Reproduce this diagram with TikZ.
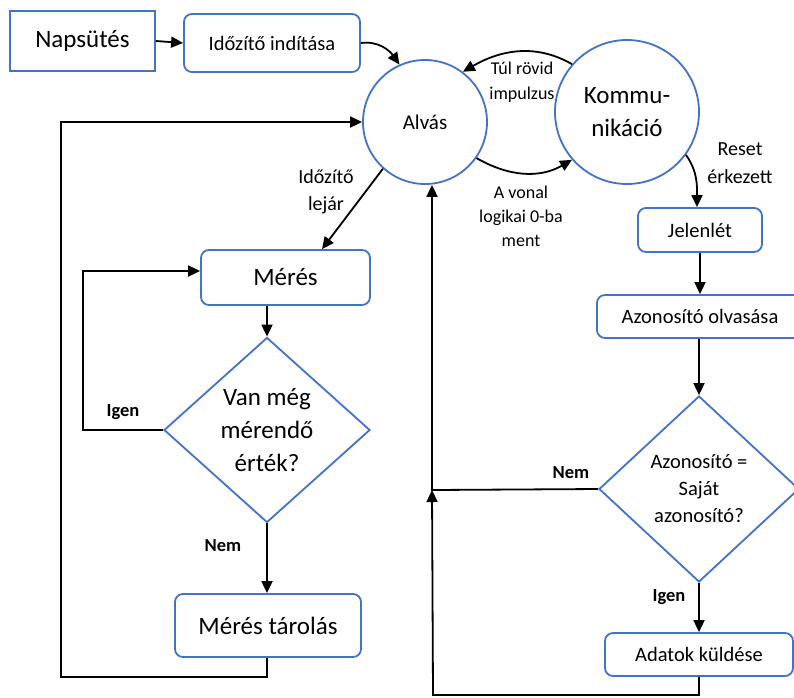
\documentclass[tikz,border=0pt]{standalone}
\usepackage{fontspec}
\setmainfont{Carlito}
\usetikzlibrary{arrows.meta,shapes.geometric,calc}
\definecolor{bblue}{RGB}{68,114,196}
\begin{document}
\begin{tikzpicture}[x=1pt,y=1pt,
  sqbox/.style={draw=bblue,line width=1.8pt,inner sep=0pt,align=center},
  rbox/.style={sqbox,rounded corners=8pt},
  circ/.style={circle,draw=bblue,line width=1.8pt,inner sep=0pt,align=center},
  dia/.style={diamond,draw=bblue,line width=1.8pt,inner sep=0pt,align=center},
  arr/.style={draw=black,line width=1.8pt,-{Triangle[length=12pt,width=11pt]}},
  big/.style={font=\fontsize{25}{33}\selectfont},
  mid/.style={font=\fontsize{20.5}{27}\selectfont},
  lbl/.style={align=center,inner sep=0pt},
  yn/.style={inner sep=0pt,font=\fontsize{18.5}{22}\selectfont\bfseries}]
\useasboundingbox[fill=white] (0,0) rectangle (794,-697);

% nodes
\node[sqbox,big,minimum width=145pt,minimum height=60pt] (nap) at (82.5,-41) {Napsütés};
\node[rbox,mid,minimum width=176pt,minimum height=58pt] (tim) at (272,-43) {Időzítő indítása};
\node[circ,font=\fontsize{21}{25}\selectfont,minimum size=124pt] (alvas) at (425,-122) {Alvás};
\node[circ,big,minimum size=144pt] (komm) at (627,-112) {Kommu-\\nikáció};
\node[rbox,mid,minimum width=124pt,minimum height=44pt] (jelen) at (700,-230) {Jelenlét};
\node[rbox,mid,minimum width=206pt,minimum height=43pt] (azolv) at (700,-316.5) {Azonosító olvasása};
\node[dia,mid,minimum width=200pt,minimum height=186pt] (dia2) at (699,-489) {Azonosító =\\Saját\\azonosító?};
\node[rbox,mid,minimum width=188pt,minimum height=43pt] (adat) at (699,-654.5) {Adatok küldése};
\node[rbox,big,minimum width=169pt,minimum height=55pt] (meres) at (285.5,-277.5) {Mérés};
\node[dia,big,minimum width=206pt,minimum height=185pt] (dia1) at (267,-430) {Van még\\mérendő\\érték?};
\node[rbox,big,minimum width=186pt,minimum height=63pt] (tarol) at (268,-625.5) {Mérés tárolás};

% labels
\node[lbl,font=\fontsize{18}{25.5}\selectfont] (ltul) at (522,-82) {Túl rövid\\impulzus};
\node[lbl,font=\fontsize{18}{24}\selectfont] (lvonal) at (521,-216) {A vonal\\logikai 0-ba\\ment};
\node[lbl,font=\fontsize{20}{28}\selectfont] (lreset) at (740,-163) {Reset\\érkezett};
\node[lbl,font=\fontsize{20}{27}\selectfont] (llej) at (326,-191.5) {Időzítő\\lejár};
\node[yn] (igen1) at (123,-412) {Igen};
\node[yn] (nem1) at (223,-546) {Nem};
\node[yn] (nem2) at (571,-473) {Nem};
\node[yn] (igen2) at (669,-597) {Igen};

% coordinates
\coordinate (loopL) at (83,-271);
\coordinate (b1) at (61,-677);
\coordinate (nemL) at (432,-490);
\coordinate (b2) at (433,-695);

% connectors
\draw[arr] (nap.east) -- (tim.west);
\draw[arr] (tim.east) to[out=8,in=125] (alvas.114);
\draw[arr] (komm.139) to[out=150,in=30] (alvas.53);
\draw[arr] (alvas.-35) to[out=-30,in=-150] (komm.221);
\draw[arr] (komm.-36) to[out=-55,in=90] ([xshift=-3pt]jelen.north);
\draw[arr] (alvas.228) -- ([xshift=36.5pt]meres.north);
\draw[arr] (meres.south -| dia1.north) -- (dia1.north);
\draw[arr] (dia1.west) -| (loopL) -- (loopL -| meres.west);
\draw[arr] (dia1.south) -- (dia1.south |- tarol.north);
\draw[arr] ([xshift=-1pt]tarol.south) |- (b1) |- (alvas.west);
\draw[arr] (jelen.south) -- (jelen.south |- azolv.north);
\draw[arr] (dia2.north |- azolv.south) -- (dia2.north);
\draw[arr] (dia2.west) -- (nemL) -- (nemL |- alvas.south);
\draw[arr] (adat.south) |- (b2) -- (nemL);
\draw[arr] (dia2.south) -- (dia2.south |- adat.north);
\end{tikzpicture}
\end{document}
